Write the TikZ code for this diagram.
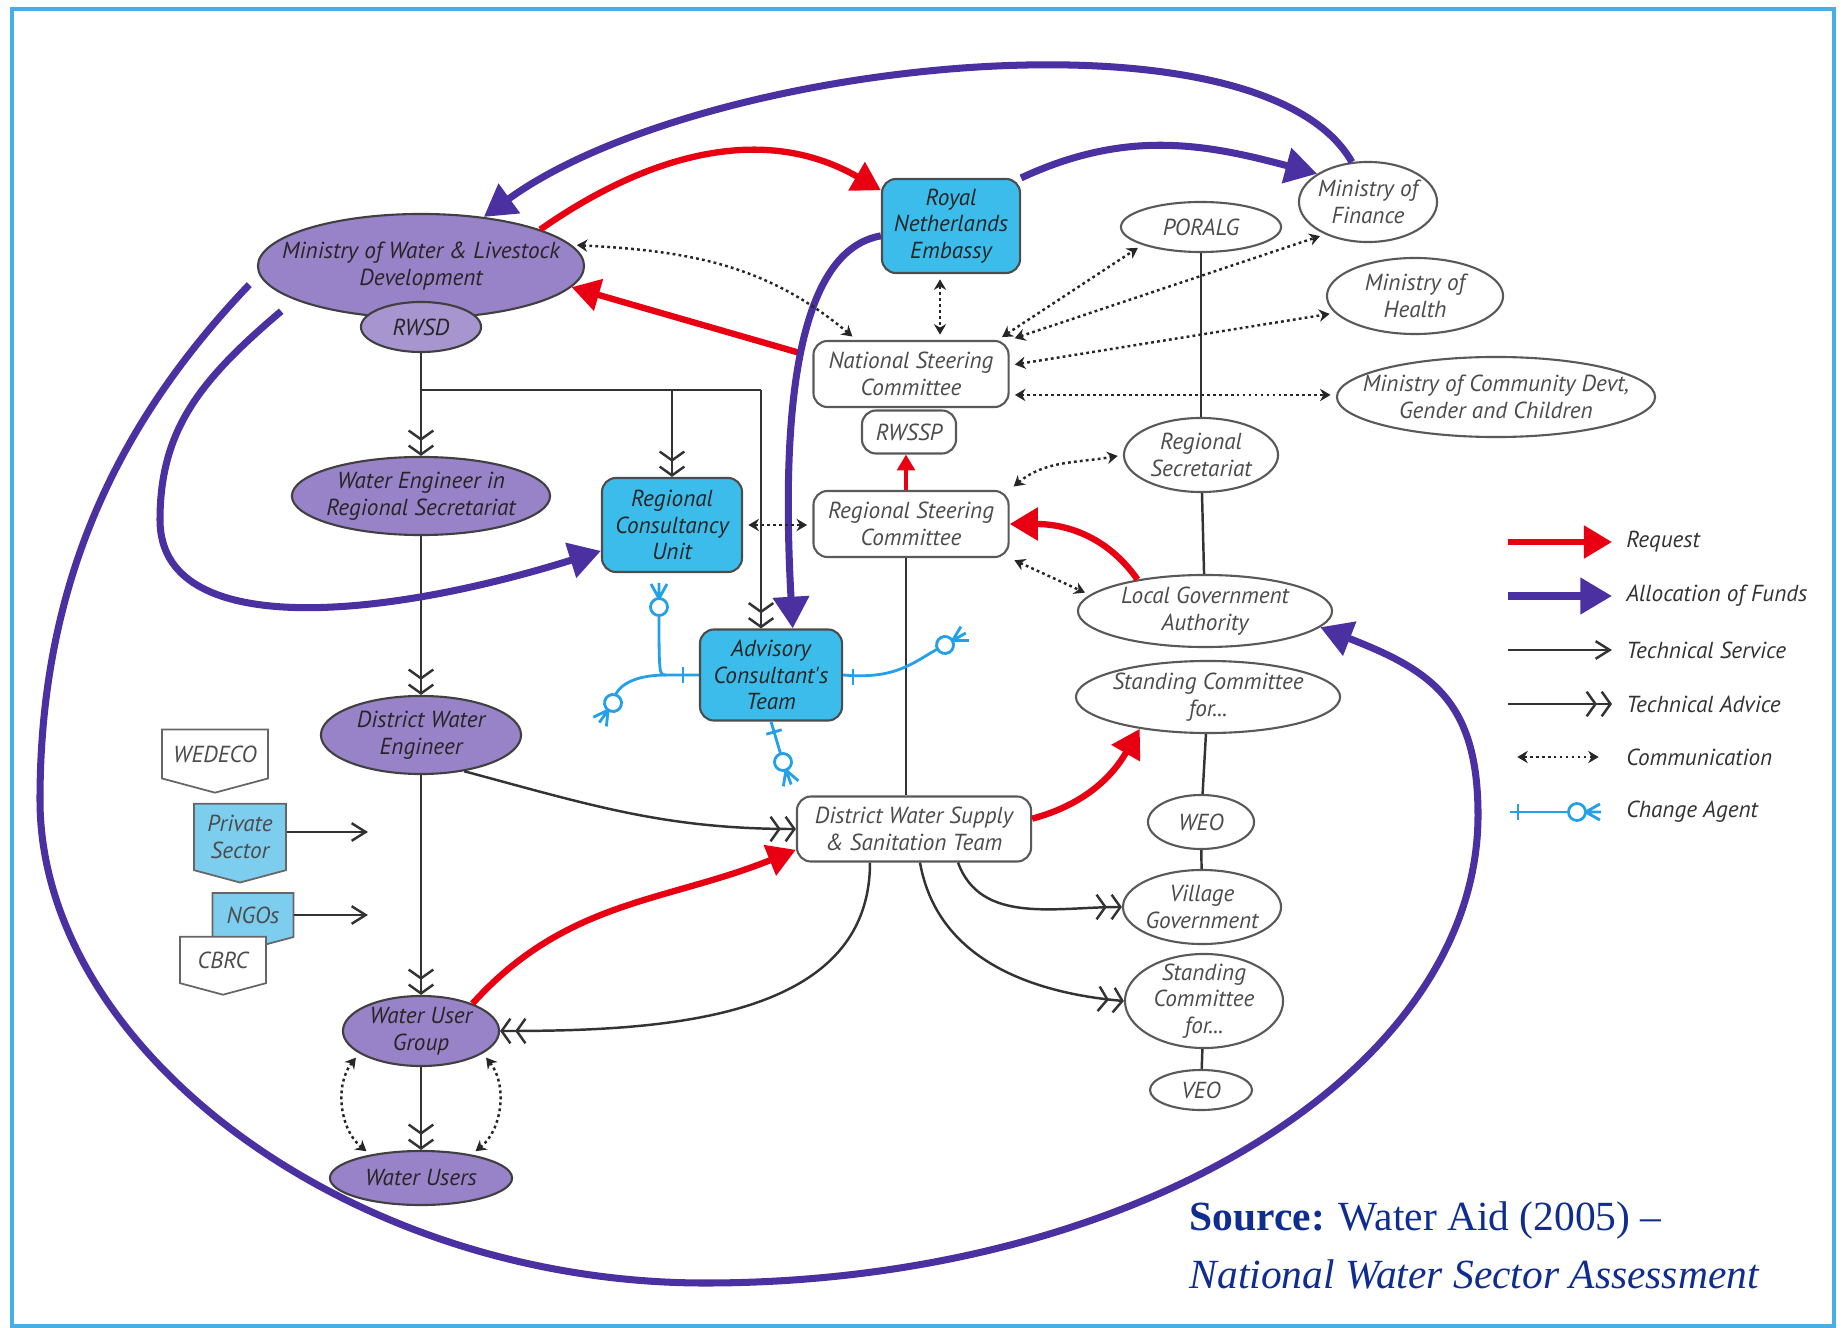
\documentclass[tikz,border=0pt]{standalone}
\usepackage{fontspec}
\setmainfont{Liberation Serif}
\newfontfamily\labelfont{PT Sans}
\usetikzlibrary{arrows.meta,shapes.geometric,shapes.symbols,positioning}
\definecolor{lavender}{RGB}{152,130,200}
\definecolor{fundblue}{RGB}{74,48,160}
\definecolor{reqred}{RGB}{232,0,18}
\definecolor{donorcyan}{RGB}{60,188,234}
\definecolor{paleblue}{RGB}{125,205,238}
\definecolor{agentblue}{RGB}{35,160,232}
\definecolor{framecyan}{RGB}{70,175,230}
\definecolor{sourceblue}{RGB}{15,45,145}
\begin{document}
\begin{tikzpicture}[x=0.01cm,y=0.01cm,
  every node/.style={font=\labelfont\itshape\fontsize{6.6}{7.6}\selectfont, align=center, inner sep=1pt},
  ministry/.style={ellipse, draw=black!75, line width=0.6pt, fill=lavender, text=black!85, inner xsep=-2pt, inner ysep=-2pt},
  office/.style={ellipse, draw=black!65, line width=0.6pt, fill=white, text=black!70, inner xsep=-2pt, inner ysep=-2pt},
  committee/.style={rectangle, rounded corners=4pt, draw=black!65, line width=0.6pt, fill=white, text=black!70},
  donor/.style={rectangle, rounded corners=4pt, draw=black!70, line width=0.6pt, fill=donorcyan, text=black!85},
  tag/.style={signal, signal to=south, signal pointer angle=150, draw=black!60, line width=0.5pt, text=black!70},
  request/.style={draw=reqred, line width=1.8pt, -{Triangle[length=8pt,width=9pt]}},
  fund/.style={draw=fundblue, line width=2pt, -{Triangle[length=9pt,width=10pt]}},
  service/.style={draw=black!80, line width=0.7pt, -{Straight Barb[length=4pt,width=5pt]}},
  advice/.style={draw=black!80, line width=0.7pt, -{Straight Barb[length=2.5pt,width=7pt,sep=1pt] Straight Barb[length=2.5pt,width=7pt]}},
  comm/.style={draw=black!85, line width=0.7pt, dash pattern=on 0.8pt off 0.9pt, shorten <=1.5pt, shorten >=1.5pt, {Stealth[length=3pt,width=3.5pt]}-{Stealth[length=3pt,width=3.5pt]}},
  agentline/.style={draw=agentblue, line width=0.8pt},
  agenttip/.pic={\draw[agentline, fill=white] (0,0) circle (8.5); \draw[agentline] (8.5,0) -- (24,0) (8.5,0) -- (23,8) (8.5,0) -- (23,-8);},
  agenttick/.pic={\draw[agentline] (0,-8) -- (0,8);}
]
\useasboundingbox (0,0) rectangle (1843,-1328);
\draw[framecyan, line width=0.9pt] (12,-9) rectangle (1834,-1326);

\node[ministry, inner xsep=-7pt, minimum width=3.26cm, minimum height=1.04cm] (mowld) at (421,-266) {Ministry of Water \& Livestock\\Development};
\node[ministry, fill=lavender!85!white, minimum width=1.2cm, minimum height=0.5cm] (rwsd) at (421,-327) {RWSD};
\node[ministry, minimum width=2.58cm, minimum height=0.78cm] (wers) at (421,-496) {Water Engineer in\\Regional Secretariat};
\node[ministry, minimum width=2cm, minimum height=0.78cm] (dwe) at (421,-735) {District Water\\Engineer};
\node[ministry, minimum width=1.56cm, minimum height=0.7cm] (wug) at (421,-1031) {Water User\\Group};
\node[ministry, minimum width=1.82cm, minimum height=0.54cm] (wu) at (421,-1178) {Water Users};

\node[donor, minimum width=1.38cm, minimum height=0.94cm] (rne) at (951,-226) {Royal\\Netherlands\\Embassy};
\node[donor, minimum width=1.4cm, minimum height=0.94cm] (rcu) at (672,-525) {Regional\\Consultancy\\Unit};
\node[donor, minimum width=1.42cm, minimum height=0.91cm] (act) at (771,-675) {Advisory\\Consultant's\\Team};

\node[committee, minimum width=1.95cm, minimum height=0.66cm] (nsc) at (911,-374) {National Steering\\Committee};
\node[committee, minimum width=0.94cm, minimum height=0.43cm] (rwssp) at (909,-432) {RWSSP};
\node[committee, minimum width=1.95cm, minimum height=0.66cm] (rsc) at (911,-524) {Regional Steering\\Committee};
\node[committee, minimum width=2.34cm, minimum height=0.65cm] (dwsst) at (914,-829) {District Water Supply\\\& Sanitation Team};

\node[office, minimum width=1.6cm, minimum height=0.5cm] (poralg) at (1201,-227) {PORALG};
\node[office, minimum width=1.38cm, minimum height=0.8cm] (mof) at (1368,-202) {Ministry of\\Finance};
\node[office, minimum width=1.76cm, minimum height=0.76cm] (moh) at (1415,-296) {Ministry of\\Health};
\node[office, inner xsep=-6pt, minimum width=3.18cm, minimum height=0.8cm] (mocd) at (1496,-397) {Ministry of Community Devt,\\Gender and Children};
\node[office, minimum width=1.54cm, minimum height=0.74cm] (regsec) at (1201,-455) {Regional\\Secretariat};
\node[office, minimum width=2.54cm, minimum height=0.72cm] (lga) at (1205,-611) {Local Government\\Authority};
\node[office, minimum width=2.64cm, minimum height=0.72cm] (scw) at (1208,-697) {Standing Committee\\for...};
\node[office, minimum width=1.06cm, minimum height=0.54cm] (weo) at (1201,-822) {WEO};
\node[office, minimum width=1.58cm, minimum height=0.74cm] (vg) at (1202,-907) {Village\\Government};
\node[office, minimum width=1.58cm, minimum height=0.94cm] (scv) at (1204,-1001) {Standing\\Committee\\for...};
\node[office, minimum width=1.02cm, minimum height=0.4cm] (veo) at (1201,-1090) {VEO};

\node[tag, fill=white, minimum width=1.06cm, minimum height=0.61cm] (wedeco) at (215,-754) {WEDECO};
\node[tag, fill=paleblue, minimum width=0.92cm, minimum height=0.76cm] (private) at (240,-837) {Private\\Sector};
\node[tag, fill=paleblue, minimum width=0.81cm, minimum height=0.52cm] (ngos) at (253,-915) {NGOs};
\node[tag, fill=white, minimum width=0.86cm, minimum height=0.54cm] (cbrc) at (223,-960) {CBRC};

\draw[black!80, line width=0.7pt] (poralg) -- (regsec);
\draw[black!80, line width=0.7pt] (regsec) -- (lga);
\draw[black!80, line width=0.7pt] (scw) -- (weo);
\draw[black!80, line width=0.7pt] (weo) -- (vg);
\draw[black!80, line width=0.7pt] (scv) -- (veo);
\draw[black!80, line width=0.7pt] (rsc.south -| 906,0) -- (dwsst.north -| 906,0);

\coordinate (fork) at (421,-390);
\coordinate (forkend) at (761,-390);
\draw[black!80, line width=0.7pt] (fork) -- (forkend);
\draw[advice] (rwsd) -- (wers);
\draw[advice] (fork -| rcu.north) -- (rcu.north);
\draw[advice] (forkend) -- (forkend |- act.north);
\draw[advice] (wers) -- (dwe);
\draw[advice] (dwe) -- (wug);
\draw[advice] (wug) -- (wu);
\draw[advice] (dwe.-40) to[out=-15,in=180] (dwsst.west);
\draw[advice] ([xshift=-0.44cm]dwsst.south) to[out=-90,in=0] (wug.east);
\draw[advice] ([xshift=0.44cm]dwsst.south) to[out=-70,in=180] (vg.west);
\draw[advice] ([xshift=0.06cm]dwsst.south) to[out=-80,in=175] (scv.west);

\coordinate (privend) at (368,0);
\draw[service] ([yshift=0.05cm]private.east) -- ([yshift=0.05cm]private.east -| privend);
\draw[service] (ngos.east) -- (ngos.east -| privend);

\draw[request] (mowld.17) to[out=35,in=150] (rne.153);
\draw[request, shorten <=3pt] (nsc.170) -- (mowld.-8);
\draw[request] (lga.155) to[out=125,in=0] (rsc.east);
\draw[request, line width=1.3pt, -{Triangle[length=4.5pt,width=5pt]}] (rsc.north -| 906,0) -- (rwssp.south -| 906,0);
\draw[request] (dwsst.5) to[out=15,in=-120] (scw.205);
\draw[request] (wug.28) to[out=48,in=-158] (dwsst.190);

\draw[fund] (rne.north east) to[out=25,in=165] (mof.151);
\draw[fund] (mof.112) .. controls (1260,0) and (700,-60) .. (mowld.38);
\draw[fund] (rne.188) .. controls (800,-250) and (780,-400) .. (act.65);
\draw[fund, shorten <=4pt] (mowld.183) .. controls (120,-420) and (40,-580) .. (40,-800)
  .. controls (40,-1050) and (350,-1283) .. (705,-1283)
  .. controls (1132,-1283) and (1478,-1073) .. (1478,-815)
  .. controls (1478,-700) and (1430,-670) .. (lga.-8);
\draw[fund, shorten <=5pt] (mowld.195) .. controls (200,-380) and (160,-430) .. (160,-520)
  .. controls (160,-640) and (380,-620) .. (rcu.200);

\draw[comm] (mowld.8) to[out=-3,in=140] (nsc.148);
\draw[comm] ([xshift=-0.11cm]rne.south) -- ([xshift=-0.11cm]rne.south |- nsc.north);
\draw[comm] ([xshift=-0.12cm]nsc.north east) -- (poralg.197);
\draw[comm] (nsc.north east) -- (mof.217);
\draw[comm] (nsc.5) -- (moh.192);
\draw[comm] (nsc.-12) -- (nsc.-12 -| mocd.west);
\draw[comm] (rsc.north east) to[out=40,in=190] (regsec.west);
\draw[comm] (rcu.east) -- (rcu.east -| rsc.west);
\draw[comm] (rsc.south east) -- (lga.172);
\draw[comm] (wug.200) to[bend right=45] (wu.155);
\draw[comm] (wug.-20) to[bend left=45] (wu.25);

\coordinate (agentfork) at (666,-675);
\draw[agentline] (act.west) -- (agentfork) .. controls (659,-675) .. (659,-607) pic[rotate=90] {agenttip};
\draw[agentline] (agentfork) .. controls (635,-675) and (615,-685) .. (613,-703) pic[rotate=-125] {agenttip};
\draw[agentline] (act.east) .. controls (900,-680) and (915,-660) .. (945,-645) pic[rotate=30] {agenttip};
\draw[agentline] (act.south) -- (783,-762) pic[rotate=-70] {agenttip};
\pic at (683,-675) {agenttick};
\pic at (853,-677) {agenttick};
\pic[rotate=-74] at (774,-732) {agenttick};

\foreach \row/\sty/\txt in {0/request/Request, 1/fund/Allocation of Funds, 2/service/Technical Service, 3/advice/Technical Advice}{
  \node[anchor=west, text=black!80] (key\row) at (1622,-542-54*\row) {\txt};
  \draw[\sty] ([xshift=-1.14cm]key\row.west) -- ([xshift=-0.1cm]key\row.west);
}
\node[anchor=west, text=black!80] (key4) at (1622,-757) {Communication};
\draw[comm] ([xshift=-1.1cm]key4.west) -- ([xshift=-0.18cm]key4.west);
\node[anchor=west, text=black!80] (key5) at (1622,-812) {Change Agent};
\draw[agentline] ([xshift=-1.12cm]key5.west) -- ([xshift=-0.45cm]key5.west) pic {agenttip};
\pic at ([xshift=-1.04cm]key5.west) {agenttick};

\node[anchor=base west, font=\fontsize{11.8}{14}\selectfont, text=sourceblue, inner sep=0pt] (src) at (1189,-1230) {\textbf{Source:} Water Aid (2005) --};
\node[anchor=base west, font=\fontsize{11.8}{14}\selectfont\itshape, text=sourceblue, inner sep=0pt] (srcb) at (1189,-1288) {National Water Sector Assessment};
\end{tikzpicture}
\end{document}
